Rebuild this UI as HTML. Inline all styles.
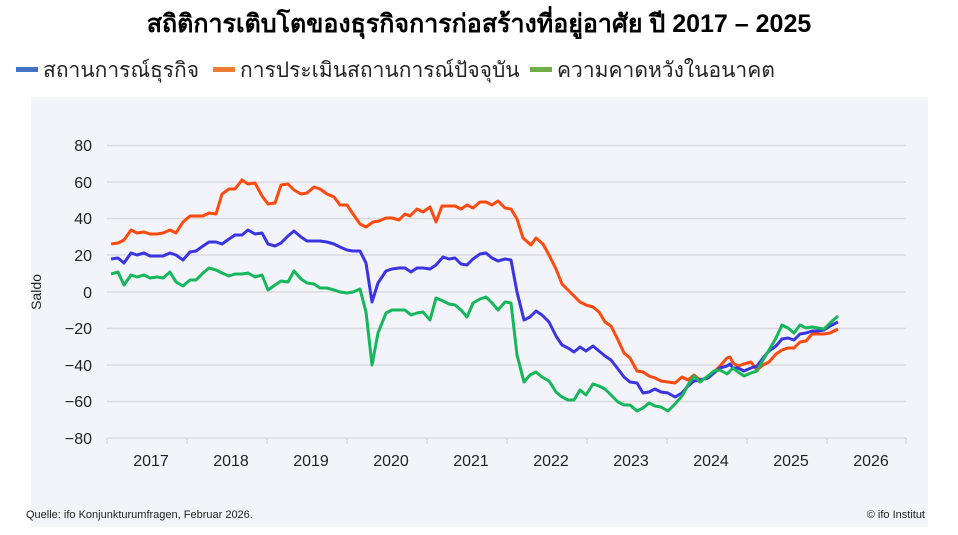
<!DOCTYPE html>
<html><head><meta charset="utf-8"><style>
body{margin:0;width:958px;height:535px;background:#fff;overflow:hidden;font-family:"Liberation Sans","Noto Sans CJK SC",sans-serif}
</style></head><body>
<svg width="958" height="535" xmlns="http://www.w3.org/2000/svg" style="position:absolute;left:0;top:0">
<text x="479" y="32" text-anchor="middle" font-size="25" font-weight="bold" fill="#000" font-family="Liberation Sans, Noto Sans CJK SC, sans-serif">สถิติการเติบโตของธุรกิจการก่อสร้างที่อยู่อาศัย ปี 2017 – 2025</text>
<rect x="16" y="67" width="22" height="5" fill="#4472c4"/>
<text x="43" y="77" font-size="21" fill="#222">สถานการณ์ธุรกิจ</text>
<rect x="213" y="67" width="22" height="5" fill="#ed7d31"/>
<text x="240" y="77" font-size="21" fill="#222">การประเมินสถานการณ์ปัจจุบัน</text>
<rect x="530" y="67" width="22" height="5" fill="#70ad47"/>
<text x="557" y="77" font-size="21" fill="#222">ความคาดหวังในอนาคต</text>
<rect x="31" y="97" width="897" height="430" fill="#f3f4f9"/>
<g stroke="#d9dae0" stroke-width="1.5">
<line x1="107" y1="145.5" x2="906" y2="145.5"/><line x1="107" y1="182" x2="906" y2="182"/>
<line x1="107" y1="218.5" x2="906" y2="218.5"/><line x1="107" y1="255" x2="906" y2="255"/>
<line x1="107" y1="292" x2="906" y2="292"/><line x1="107" y1="328.5" x2="906" y2="328.5"/>
<line x1="107" y1="365" x2="906" y2="365"/><line x1="107" y1="401.5" x2="906" y2="401.5"/>
<line x1="107" y1="438" x2="906" y2="438"/>
<path d="M107 438v6M187 438v6M267 438v6M347 438v6M427 438v6M507 438v6M587 438v6M667 438v6M747 438v6M827 438v6M906 438v6"/>
</g>
<g font-size="16" fill="#222" text-anchor="end">
<text x="92" y="151">80</text><text x="92" y="188">60</text><text x="92" y="224">40</text>
<text x="92" y="261">20</text><text x="92" y="298">0</text><text x="92" y="334">−20</text><text x="92" y="371">−40</text><text x="92" y="407">−60</text><text x="92" y="444">−80</text>
</g>
<text transform="translate(41,292) rotate(-90)" font-size="14" fill="#222" text-anchor="middle">Saldo</text>
<g font-size="16" fill="#222" text-anchor="middle">
<text x="151" y="466">2017</text><text x="231" y="466">2018</text><text x="311" y="466">2019</text><text x="391" y="466">2020</text><text x="471" y="466">2021</text><text x="551" y="466">2022</text><text x="631" y="466">2023</text><text x="711" y="466">2024</text><text x="791" y="466">2025</text><text x="871" y="466">2026</text>
</g>
<text x="26" y="518" font-size="11" fill="#222">Quelle: ifo Konjunkturumfragen,  Februar 2026.</text>
<text x="925" y="518" font-size="11" fill="#222" text-anchor="end">© ifo Institut</text>
<g fill="none" stroke-width="3" stroke-linejoin="round">
<polyline stroke="#ff4a0e" points="111,244 118,243 124,240 131,230 137,233 144,232 150,234 157,234 163,233 170,230 176,233 183,222 190,216 196,216 203,216 209,213 216,214 222,194 229,189 235,189 242,180 248,184 255,183 262,196 268,204 275,203 281,185 288,184 294,190 301,194 307,193 314,187 320,189 327,194 334,197 340,205 347,205 353,214 360,224 366,227 373,222 379,221 386,218 392,218 399,220 405,214 410,216 417,209 423,212 430,207 436,222 442,206 448,206 455,206 461,209 467,205 473,208 480,202 486,202 492,205 498,201 505,208 511,209 517,219 523,238 531,245 536,238 543,244 549,255 556,269 562,284 568,290 574,296 580,302 586,305 593,307 599,312 605,322 611,326 618,340 624,353 630,358 637,371 643,372 649,376 655,378 661,381 668,382 675,383 682,377 688,380 694,375 700,380 708,378 714,372 720,366 727,358 730,357 733,363 738,366 744,364 751,362 757,370 763,365 769,362 776,354 782,350 788,348 794,348 800,342 806,341 812,334 818,334 824,334 830,333 838,329"/>
<polyline stroke="#3a35e0" points="111,259 118,258 124,263 131,253 137,255 144,253 150,256 157,256 163,256 170,253 176,255 183,260 190,252 196,251 203,246 209,242 216,242 222,244 229,239 235,235 242,235 248,230 255,234 262,233 268,244 275,246 281,243 288,236 294,231 301,237 307,241 314,241 320,241 327,242 334,244 340,247 347,250 353,251 360,251 366,263 372,302 378,283 386,271 392,269 399,268 405,268 411,272 417,268 423,268 430,269 436,265 443,257 449,259 455,258 461,264 467,265 473,259 480,254 486,253 492,258 498,261 505,259 511,260 517,292 524,320 530,317 536,311 542,315 549,322 556,336 562,345 568,348 574,352 580,347 586,351 593,346 599,351 605,356 611,360 618,369 624,377 630,382 637,383 643,393 649,392 655,389 661,392 668,393 675,397 682,393 688,386 694,381 700,380 708,378 714,373 720,368 727,366 730,364 733,368 738,368 744,371 751,368 757,366 763,358 769,351 776,346 782,339 788,338 794,340 800,334 806,333 812,331 818,331 824,330 830,326 838,322"/>
<polyline stroke="#16b65a" points="111,274 118,272 124,285 131,275 137,277 144,275 150,278 157,277 163,278 170,272 176,282 183,286 190,280 196,280 203,273 209,268 216,270 222,273 229,276 235,274 242,274 248,273 255,277 262,275 268,290 275,285 281,281 288,282 294,271 301,279 307,283 314,284 320,288 327,288 334,290 340,292 347,293 353,292 360,289 366,312 372,365 378,333 386,313 392,310 399,310 405,310 411,315 417,313 423,312 430,320 436,298 443,301 449,304 455,305 461,310 467,317 473,303 480,299 486,297 492,303 498,310 505,302 511,303 517,355 524,382 530,375 536,372 542,377 549,381 556,392 562,397 568,400 574,400 580,390 586,395 593,384 599,386 605,389 611,395 618,402 624,405 630,405 637,411 643,408 649,403 655,406 661,407 668,411 675,404 682,396 688,385 694,376 700,382 708,376 714,371 720,370 727,374 733,368 738,372 744,376 751,373 757,371 763,360 769,350 776,338 782,325 788,328 794,333 800,325 806,328 812,327 818,328 824,329 830,323 838,316"/>
</g>
</svg>
</body></html>
